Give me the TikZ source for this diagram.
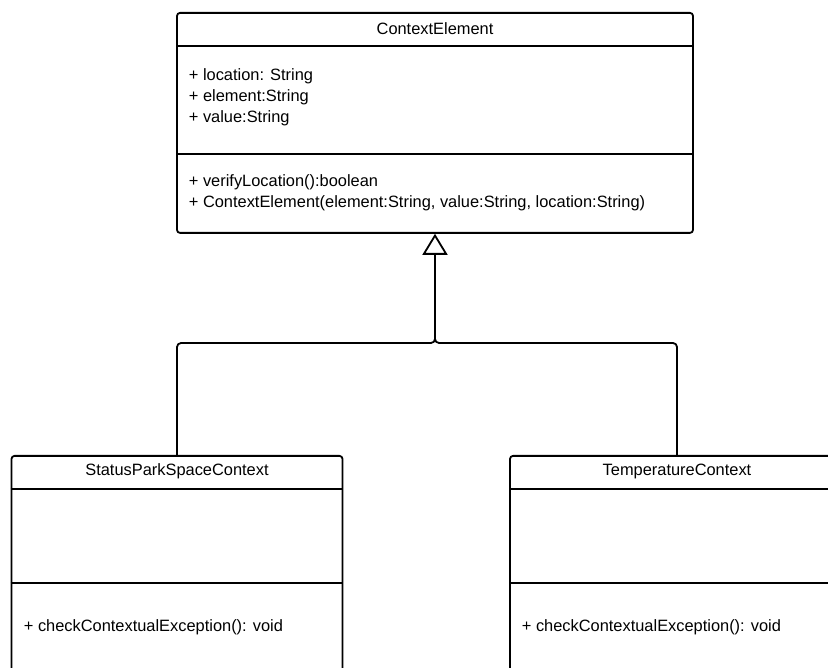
\documentclass[tikz,border=0pt]{standalone}
\usepackage{fontspec}
\setmainfont{Liberation Sans}
\usetikzlibrary{arrows.meta}
\begin{document}
\begin{tikzpicture}[x=1pt,y=-1pt,
  line width=1.8pt, line join=round,
  classbox/.style={draw, rounded corners=3pt, inner sep=0pt, anchor=north},
  txt/.style={inner sep=0pt, font=\fontsize{16.4}{20.8}\selectfont},
  members/.style={txt, anchor=west, align=left},
  inherit/.style={-{Triangle[open,width=25pt,length=21pt]}, rounded corners=4pt}]
  \useasboundingbox (0,0) rectangle (828,668);
  \clip (0,0) rectangle (828,668);
  \fill[white] (0,0) rectangle (828,668);

  % superclass
  \node[classbox, minimum width=516pt, minimum height=220pt] (ce) at (435,12) {};
  \draw (ce.west |- 0,46) -- (ce.east |- 0,46);
  \draw (ce.west |- 0,154) -- (ce.east |- 0,154);
  \node[txt] (ceName) at (435,29) {ContextElement};
  \node[members] (ceAttr) at (188,97.5) {+ location: String\\+ element:String\\+ value:String};
  \node[members] (ceOps) at (188,192.5) {+ verifyLocation():boolean\\+ ContextElement(element:String, value:String, location:String)};

  % subclasses
  \node[classbox, minimum width=331pt, minimum height=260pt] (spc) at (177,455) {};
  \draw (spc.west |- 0,489) -- (spc.east |- 0,489);
  \draw (spc.west |- 0,583) -- (spc.east |- 0,583);
  \node[txt] (spcName) at (177,471) {StatusParkSpaceContext};
  \node[members] (spcOps) at (23,627) {+ checkContextualException(): void};

  \node[classbox, minimum width=334pt, minimum height=260pt] (tc) at (677,455) {};
  \draw (tc.west |- 0,489) -- (tc.east |- 0,489);
  \draw (tc.west |- 0,583) -- (tc.east |- 0,583);
  \node[txt] (tcName) at (677,471) {TemperatureContext};
  \node[members] (tcOps) at (521,627) {+ checkContextualException(): void};

  % generalisation connectors
  \coordinate (join) at (435,343);
  \coordinate (stem) at (435,300);
  \draw[inherit] (spc.north) |- (join) -- (ce.south);
  \draw[rounded corners=4pt] (tc.north) |- (join) -- (stem);
\end{tikzpicture}
\end{document}
